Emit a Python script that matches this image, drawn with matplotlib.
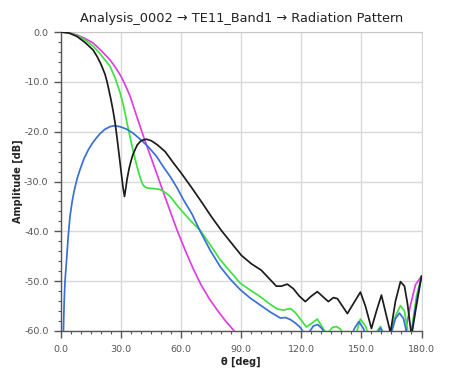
import numpy as np
import matplotlib
matplotlib.use("Agg")
import matplotlib.pyplot as plt
from matplotlib.ticker import MultipleLocator, FormatStrFormatter

nan = np.nan

# ---- data ----
theta_black = [0, 4, 8, 12, 16, 18, 20, 22, 23, 24, 25, 26, 27, 28, 29, 30, 31, 31.7, 32.3, 33,
               34, 35, 36, 38, 40, 42.5, 45, 48, 52, 56, 60, 65, 70, 75, 80, 85, 90, 95, 100,
               104, 107.5, 110, 113, 116, 119, 122, 125, 128, 131, 133.5, 136, 138, 140.5, 143,
               146, 149.5, 152, 155, 157.5, 160, 162.5, 164.5, 167, 169.5, 171.5, 173, 175,
               177, 180]
amp_black = [0, -0.2, -0.9, -2.1, -3.6, -4.9, -6.5, -8.5, -10.0, -11.8, -13.7, -15.8, -18.2,
             -21.3, -24.6, -28.0, -31.3, -33.0, -31.5, -29.5, -27.4, -25.8, -24.5, -22.7, -21.8,
             -21.5, -21.8, -22.6, -24.0, -26.2, -28.3, -31.1, -34.0, -37.0, -39.8, -42.3, -44.8,
             -46.5, -47.8, -49.5, -51.0, -51.0, -50.6, -51.5, -53.0, -54.1, -53.0, -52.1, -53.2,
             -54.1, -53.3, -53.5, -55.0, -56.5, -54.5, -52.2, -55.0, -59.5, -56.0, -52.8, -57.0,
             -60.3, -54.0, -50.1, -51.0, -54.5, -61.0, -56.0, -49.0]

theta_magenta = [0, 4, 8, 12, 16, 20, 24.5, 27, 30, 32.5, 34.5, 37.8, 41.2, 43.7, 47, 50, 54, 58,
                 62, 66, 70, 74, 78, 82, 86.5, 88, 120, 171, 172, 174.5, 177, 180]
amp_magenta = [0, -0.15, -0.6, -1.3, -2.2, -3.7, -5.6, -7.0, -8.9, -11.0, -12.9, -16.9, -21.0,
               -23.8, -27.5, -30.9, -35.4, -39.8, -43.8, -47.5, -50.8, -53.5, -55.8, -57.9,
               -60.0, -61.0, nan, -61.0, -60.0, -54.8, -50.7, -49.0]

theta_green = [0, 4, 8, 12, 16.2, 20, 24.5, 27, 29.5, 31, 32, 33, 34, 35, 36, 37, 38, 39, 40, 41,
               42, 43, 46, 49.5, 52, 54.5, 58, 61.2, 65, 69.5, 75, 79.5, 85, 89.5, 94.5, 99.5,
               104, 108, 111, 114.5, 117, 119.5, 122.5, 125, 128, 131, 133, 135.5, 137.5, 139.5,
               141, 144, 147, 149.5, 152, 154, 157, 159.5, 161.5, 164, 167, 169.5, 171.5, 173.5,
               175, 177.5, 180]
amp_green = [0, -0.2, -0.7, -1.6, -2.9, -4.6, -6.9, -9.2, -12.2, -14.5, -16.3, -18.3, -20.2,
             -22.0, -23.8, -25.5, -27.1, -28.5, -29.8, -30.7, -31.1, -31.3, -31.4, -31.6, -32.2,
             -33.0, -34.8, -36.3, -38.0, -39.8, -43.0, -45.7, -48.3, -50.4, -51.8, -53.1, -54.5,
             -55.6, -55.8, -55.5, -56.3, -57.6, -59.2, -58.5, -57.6, -59.6, -60.5, -59.3, -59.1,
             -59.6, -61.0, nan, -61.0, -57.6, -59.0, -61.0, -60.5, -59.1, -61.0, -61.0, -57.0,
             -54.9, -56.0, -61.0, -60.0, -53.0, -49.0]

theta_blue = [0.8, 1.2, 1.6, 2, 2.8, 3.6, 4.5, 5.5, 6.5, 8, 9.5, 11.5, 13.7, 15.7, 17.8, 19.5, 22,
              24.5, 26.5, 29.5, 32.8, 36, 39.5, 43.5, 47.8, 51, 54.5, 58, 61.2, 65.5, 69.5, 74.5,
              79.5, 84.5, 89.5, 94.5, 99.5, 104.5, 109.5, 112, 114.5, 117, 119.5, 121.5, 124,
              126, 128.2, 130.5, 132, 140, 145, 146.5, 148.7, 151, 152.5, 155, 157, 159.5,
              161.5, 164.5, 167, 169, 171, 173, 175, 177.5, 180]
amp_blue = [-61.0, -60.0, -54.0, -50.0, -45.7, -41.0, -37.0, -34.2, -32.0, -29.5, -27.6, -25.4,
            -23.6, -22.3, -21.2, -20.4, -19.5, -19.0, -18.8, -19.0, -19.5, -20.3, -21.5, -23.0,
            -25.0, -27.0, -29.0, -31.3, -33.7, -36.6, -40.0, -43.8, -47.1, -49.6, -51.7, -53.4,
            -54.8, -56.2, -57.4, -57.3, -57.7, -58.4, -59.3, -60.5, -60.2, -59.0, -58.7, -59.6,
            -61.0, nan, -61.0, -59.5, -58.1, -59.5, -61.0, nan, -61.0, -59.4, -61.0, -61.0,
            -57.5, -56.4, -57.5, -61.0, -60.5, -54.0, -49.0]

x_ticks = [0.0, 30.0, 60.0, 90.0, 120.0, 150.0, 180.0]
y_ticks = [0.0, -10.0, -20.0, -30.0, -40.0, -50.0, -60.0]

title = "Analysis_0002 \u2192 TE11_Band1 \u2192 Radiation Pattern"

# ---- figure ----
fig = plt.figure(figsize=(4.51, 3.69), dpi=100)
ax = fig.add_axes([61 / 451, 1 - 331 / 369, (421.5 - 61) / 451, (331 - 32) / 369])

lw = 1.25
kw = dict(lw=lw, solid_joinstyle="round", solid_capstyle="round")
ax.plot(theta_magenta, amp_magenta, color="#dd3fdd", zorder=3, **kw)
ax.plot(theta_green, amp_green, color="#3ee23e", zorder=4, **kw)
ax.plot(theta_blue, amp_blue, color="#3a6fd6", zorder=5, **kw)
ax.plot(theta_black, amp_black, color="#1c1c1c", zorder=6, **kw)

ax.set_xlim(0, 180)
ax.set_ylim(-60, 0)
ax.set_xticks(x_ticks)
ax.set_yticks(y_ticks)
ax.xaxis.set_major_formatter(FormatStrFormatter("%.1f"))
ax.yaxis.set_major_formatter(FormatStrFormatter("%.1f"))
ax.xaxis.set_minor_locator(MultipleLocator(5))
ax.yaxis.set_minor_locator(MultipleLocator(2))

ax.grid(True, which="major", color="#d9d9d9", lw=1.0, zorder=0)
ax.set_axisbelow(True)

for s in ["left", "bottom"]:
    ax.spines[s].set_color("#555555")
    ax.spines[s].set_linewidth(1.0)
ax.spines["top"].set_color("#c8c8c8")
ax.spines["right"].set_color("#d9d9d9")

ax.tick_params(axis="both", which="major", direction="out", length=5, width=1.0,
               color="#555555", labelsize=6.8, labelcolor="#555555", pad=5)
ax.tick_params(axis="both", which="minor", direction="out", length=2.5, width=0.8,
               color="#555555")
ax.tick_params(axis="y", which="major", pad=4)

ax.set_xlabel("\u03b8 [deg]", fontsize=7, fontweight="bold", color="#222222", labelpad=2)
ax.set_ylabel("Amplitude [dB]", fontsize=7, fontweight="bold", color="#222222", labelpad=0.8)
ax.set_title(title, fontsize=9.3, color="#222222", pad=7)

fig.savefig("out.png", dpi=100)
